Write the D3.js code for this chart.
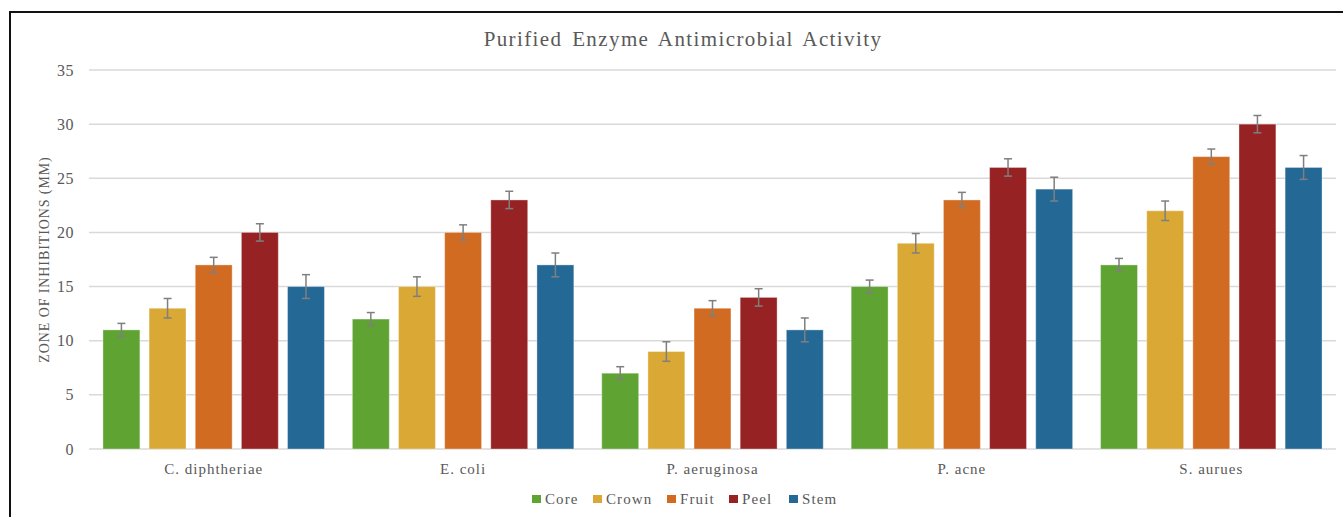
<!DOCTYPE html>
<html><head><meta charset="utf-8">
<script src="https://cdn.jsdelivr.net/npm/d3@7/dist/d3.min.js"></script>
<style>html,body{margin:0;padding:0;background:#fff;}svg{display:block;}</style>
</head><body>
<script>
const categories = ["C. diphtheriae", "E. coli", "P. aeruginosa", "P. acne", "S. aurues"];
const seriesNames = ["Core", "Crown", "Fruit", "Peel", "Stem"];
const seriesColors = ["#5fa333", "#daa935", "#d26b22", "#962223", "#246896"];
const coreValues  = [11, 12, 7, 15, 17];
const crownValues = [13, 15, 9, 19, 22];
const fruitValues = [17, 20, 13, 23, 27];
const peelValues  = [20, 23, 14, 26, 30];
const stemValues  = [15, 17, 11, 24, 26];
const errorValues = [0.6, 0.9, 0.7, 0.8, 1.1];
const yTicks = [0, 5, 10, 15, 20, 25, 30, 35];
const title = "Purified Enzyme Antimicrobial Activity";
const yLabel = "ZONE OF INHIBITIONS (MM)";

const series = [coreValues, crownValues, fruitValues, peelValues, stemValues];

const W = 1343, H = 517;
const m = {left: 89, right: 1336, top: 70, bottom: 449};
const svg = d3.select("body").append("svg").attr("width", W).attr("height", H);
const font = "'Liberation Serif', 'Times New Roman', serif";
const textColor = "#595959";

// outer border
svg.append("rect").attr("x", 10).attr("y", 12).attr("width", W + 20).attr("height", H + 20)
  .attr("fill", "none").attr("stroke", "#111").attr("stroke-width", 2);

const x0 = d3.scaleBand().domain(categories).range([m.left, m.right]).padding(0);
const bw = x0.bandwidth();
const x1 = d3.scaleBand().domain(seriesNames).range([bw * 0.056, bw * 0.944]).paddingInner(0.2).paddingOuter(0);
const y = d3.scaleLinear().domain([0, 35]).range([m.bottom, m.top]);

// gridlines
svg.append("g").selectAll("line").data(yTicks).join("line")
  .attr("x1", m.left).attr("x2", m.right)
  .attr("y1", d => y(d)).attr("y2", d => y(d))
  .attr("stroke", "#d9d9d9").attr("stroke-width", 1.5);

// y axis labels
const yAxis = d3.axisLeft(y).tickValues(yTicks).tickSize(0).tickPadding(0);
const ya = svg.append("g").attr("transform", `translate(${m.left - 15},0)`).call(yAxis);
ya.select(".domain").remove();
ya.selectAll("text").attr("font-family", font).attr("font-size", 16).attr("letter-spacing", 0.5).attr("fill", textColor);

// x axis labels
const xAxis = d3.axisBottom(x0).tickSize(0).tickPadding(0);
const xa = svg.append("g").attr("transform", `translate(0,${m.bottom + 14})`).call(xAxis);
xa.select(".domain").remove();
xa.selectAll("text").attr("font-family", font).attr("font-size", 15).attr("letter-spacing", 1).attr("fill", textColor);

// bars
const data = [];
categories.forEach((c, ci) => {
  seriesNames.forEach((s, si) => {
    data.push({cat: c, ser: s, si, v: series[si][ci], e: errorValues[si]});
  });
});
const g = svg.append("g");
g.selectAll("rect.bar").data(data).join("rect").attr("class", "bar")
  .attr("x", d => x0(d.cat) + x1(d.ser))
  .attr("width", x1.bandwidth())
  .attr("y", d => y(d.v))
  .attr("height", d => y(0) - y(d.v))
  .attr("fill", d => seriesColors[d.si])
  .attr("stroke", "rgba(255,255,255,0.35)").attr("stroke-width", 1);

// error bars
const eg = svg.append("g").attr("stroke", "#7f7f7f").attr("stroke-width", 1.5);
data.forEach(d => {
  const cx = x0(d.cat) + x1(d.ser) + x1.bandwidth() / 2;
  const yt = y(d.v + d.e), yb = y(d.v - d.e);
  eg.append("line").attr("x1", cx).attr("x2", cx).attr("y1", yt).attr("y2", yb);
  eg.append("line").attr("x1", cx - 4).attr("x2", cx + 4).attr("y1", yt).attr("y2", yt);
  eg.append("line").attr("x1", cx - 4).attr("x2", cx + 4).attr("y1", yb).attr("y2", yb);
});

// title
svg.append("text").attr("x", 683).attr("y", 46)
  .attr("text-anchor", "middle").attr("font-family", font).attr("font-size", 21)
  .attr("letter-spacing", 1.4).attr("word-spacing", 3)
  .attr("fill", textColor).text(title);

// y label
svg.append("text").attr("transform", `translate(49,${(m.top + m.bottom) / 2}) rotate(-90)`)
  .attr("text-anchor", "middle").attr("font-family", font).attr("font-size", 14)
  .attr("letter-spacing", 0.9)
  .attr("fill", textColor).text(yLabel);

// legend
const lg = svg.append("g");
const legendX = [532, 593, 667, 729, 789];
seriesNames.forEach((s, i) => {
  lg.append("rect").attr("x", legendX[i]).attr("y", 495).attr("width", 9).attr("height", 8).attr("fill", seriesColors[i]);
  lg.append("text").attr("x", legendX[i] + 13).attr("y", 504).attr("font-family", font)
    .attr("font-size", 15).attr("letter-spacing", 1.1).attr("fill", textColor).text(s);
});
</script>
</body></html>
